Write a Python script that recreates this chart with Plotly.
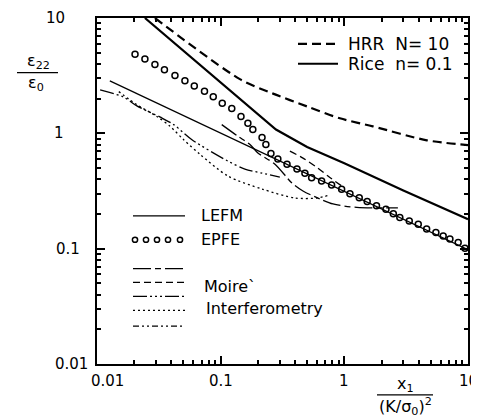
import math
import plotly.graph_objects as go

# ---------------- data ----------------
epfe_x = [0.0203, 0.0244, 0.0294, 0.0351, 0.0427, 0.0514, 0.0612, 0.074, 0.0871, 0.103,
          0.123, 0.146, 0.166, 0.182, 0.216, 0.232, 0.255, 0.29, 0.344, 0.414,
          0.48, 0.544, 0.655, 0.789, 0.951, 1.11, 1.32, 1.53, 1.82, 2.17,
          2.49, 2.81, 3.35, 3.96, 4.63, 5.5, 6.3, 7.14, 8.33, 9.44]
epfe_y = [4.85, 4.41, 3.96, 3.56, 3.18, 2.85, 2.57, 2.32, 2.08, 1.82,
          1.64, 1.40, 1.22, 1.08, 0.92, 0.80, 0.67, 0.60, 0.54, 0.49,
          0.45, 0.412, 0.386, 0.356, 0.327, 0.300, 0.277, 0.256, 0.235, 0.220,
          0.201, 0.186, 0.174, 0.163, 0.148, 0.138, 0.129, 0.121, 0.113, 0.101]

rice_x = [0.0244, 0.28, 0.5, 1.0, 3.0, 10.0]
rice_y = [10.0, 1.08, 0.76, 0.55, 0.32, 0.18]

hrr_x = [0.0294, 0.143, 0.265, 0.5, 0.92, 1.7, 4.65, 10.0]
hrr_y = [10.0, 2.95, 2.21, 1.71, 1.35, 1.15, 0.87, 0.79]

lefm_x = [0.0127, 10.0]
lefm_y = [2.85, 0.098]

# experimental (Moire / interferometry) curves
exp1_x = [0.102, 0.138, 0.1726, 0.2, 0.275, 0.375, 0.463, 0.635, 0.81, 1.26, 2.71]
exp1_y = [1.19, 0.942, 0.80, 0.676, 0.54, 0.373, 0.316, 0.27, 0.244, 0.228, 0.226]

exp2_x = [0.363, 0.463, 0.61, 0.75, 0.95]
exp2_y = [0.70, 0.61, 0.50, 0.42, 0.35]

exp3_x = [0.0106, 0.0164, 0.021, 0.0325, 0.0417, 0.0586, 0.1146, 0.157, 0.216, 0.301]
exp3_y = [2.38, 2.06, 1.73, 1.38, 1.19, 0.88, 0.574, 0.49, 0.452, 0.418]

exp4_x = [0.015, 0.021, 0.0305, 0.039, 0.0502, 0.0684, 0.1146, 0.216, 0.399, 0.60, 0.75]
exp4_y = [2.30, 1.77, 1.40, 1.15, 0.88, 0.655, 0.426, 0.329, 0.275, 0.275, 0.29]

x_tick_vals = [0.01, 0.1, 1, 10]
x_tick_text = ["0.01", "0.1", "1", "10"]
y_tick_vals = [10, 1, 0.1, 0.01]
y_tick_text = ["10", "1", "0.1", "0.01"]

legend_top = ["HRR  N= 10", "Rice  n= 0.1"]
legend_low = ["LEFM", "EPFE", "Moire`", "Interferometry"]

# ---------------- styles / layout helpers ----------------
# page has an 8px body margin, so the figure is made 8px smaller and
# all page-pixel positions below are relative to the page
OFF = 8
W, H = 479 - OFF, 419 - OFF
L, R, T, B = 97, 468, 16, 364        # plot-area box in page pixels
FONT = "DejaVu Sans"

def PX(x):
    return (x - L) / (R - L)

def PY(y):
    return (B - y) / (B - T)

DASH_A = "18px,4px,6px,4px"          # long - short
DASH_B = "7px,4px"                    # dashed
DASH_C = "14px,3px,2px,3px,2px,3px,2px,3px"
DASH_D = "2px,3px"                    # dotted
DASH_E = "6px,3px,2px,3px,2px,3px"
DASH_H = "9px,5px"

fig = go.Figure()

def line(x, y, width, dash="solid", shape="linear"):
    fig.add_trace(go.Scatter(x=x, y=y, mode="lines",
                             line=dict(color="black", width=width, dash=dash, shape=shape,
                                       smoothing=0.8),
                             hoverinfo="skip"))

line(hrr_x, hrr_y, 2.2, DASH_H, "spline")
line(rice_x, rice_y, 2.2)
line(lefm_x, lefm_y, 1.3)
line(exp1_x, exp1_y, 1.3, DASH_A, "spline")
line(exp2_x, exp2_y, 1.3, DASH_B, "spline")
line(exp3_x, exp3_y, 1.3, DASH_C, "spline")
line(exp4_x, exp4_y, 1.3, DASH_D, "spline")

fig.add_trace(go.Scatter(x=epfe_x, y=epfe_y, mode="markers",
                         marker=dict(symbol="circle-open", size=6, color="black",
                                     line=dict(width=1.5, color="black")),
                         hoverinfo="skip"))

# ---- legend keys drawn as paper shapes ----
shapes = []
def key_line(x0, x1, y, width, dash):
    shapes.append(dict(type="line", xref="paper", yref="paper",
                       x0=PX(x0), x1=PX(x1), y0=PY(y), y1=PY(y),
                       line=dict(color="black", width=width, dash=dash)))

key_line(298, 338, 42, 2.2, DASH_H)
key_line(298, 338, 62, 2.2, "solid")
key_line(133, 185, 215, 1.3, "solid")
key_line(133, 185, 268, 1.3, DASH_A)
key_line(133, 185, 282, 1.3, DASH_B)
key_line(133, 185, 296, 1.3, DASH_C)
key_line(133, 185, 310, 1.3, DASH_D)
key_line(133, 185, 326, 1.3, DASH_E)
for cx in (135, 146, 157, 168, 180):
    shapes.append(dict(type="circle", xref="paper", yref="paper",
                       x0=PX(cx - 2.6), x1=PX(cx + 2.6), y0=PY(239 + 2.6), y1=PY(239 - 2.6),
                       line=dict(color="black", width=1.5)))

ann = []
def text(t, x, y, size=16, xanchor="left", **kw):
    ann.append(dict(text=t, x=PX(x), y=PY(y), xref="paper", yref="paper",
                    xanchor=xanchor, yanchor="middle", showarrow=False,
                    font=dict(family=FONT, size=size, color="black"), **kw))

text(legend_top[0], 346, 42, 17)
text(legend_top[1], 346, 62, 17)
text(legend_low[0], 199, 215, 16)
text(legend_low[1], 199, 239, 16)
text(legend_low[2], 202, 286, 16)
text(legend_low[3], 204, 308, 16)

# tick labels through the axes
y_label_x = [55, 58.5, 67.5, 71.5]
for v, t, cx in zip(y_tick_vals, y_tick_text, y_label_x):
    ann.append(dict(text=t, x=PX(cx), xref="paper", y=math.log10(v), yref="y",
                    xanchor="center", yanchor="middle", showarrow=False,
                    font=dict(family=FONT, size=15, color="black")))
x_label_shift = [10, 0, 0, 0]
for v, t, sh in zip(x_tick_vals, x_tick_text, x_label_shift):
    ann.append(dict(text=t, x=math.log10(v), xref="x", y=PY(381), yref="paper",
                    xanchor="center", yanchor="middle", showarrow=False, xshift=sh,
                    font=dict(family=FONT, size=15, color="black")))

# axis titles (fractions)
text("ε<sub>22</sub>", 38, 60, 16, xanchor="center")
text("ε<sub>0</sub>", 36, 82, 16, xanchor="center")
text("x<sub>1</sub>", 405, 385, 16, xanchor="center")
text("(K/σ<sub>0</sub>)<sup>2</sup>", 405, 407, 16, xanchor="center")

shapes += [
    dict(type="line", xref="paper", yref="paper", x0=PX(17), x1=PX(58), y0=PY(71), y1=PY(71),
         line=dict(color="black", width=1.3)),
    dict(type="line", xref="paper", yref="paper", x0=PX(377), x1=PX(433), y0=PY(395), y1=PY(395),
         line=dict(color="black", width=1.3)),
]

axis_common = dict(type="log", range=[-2, 1], showline=True, linecolor="black", linewidth=2,
                   mirror="ticks", ticks="inside", ticklen=8, tickwidth=2, tickcolor="black",
                   dtick=1, showticklabels=False, showgrid=False, zeroline=False,
                   minor=dict(ticks="inside", ticklen=4, tickwidth=1.5, tickcolor="black",
                              showgrid=False))

fig.update_layout(
    width=W, height=H,
    margin=dict(l=L - OFF, r=479 - R, t=T - OFF, b=419 - B),
    paper_bgcolor="white", plot_bgcolor="white",
    showlegend=False,
    font=dict(family=FONT, color="black"),
    xaxis=axis_common,
    yaxis=axis_common,
    annotations=ann,
    shapes=shapes,
)

fig.write_html("out.html")
